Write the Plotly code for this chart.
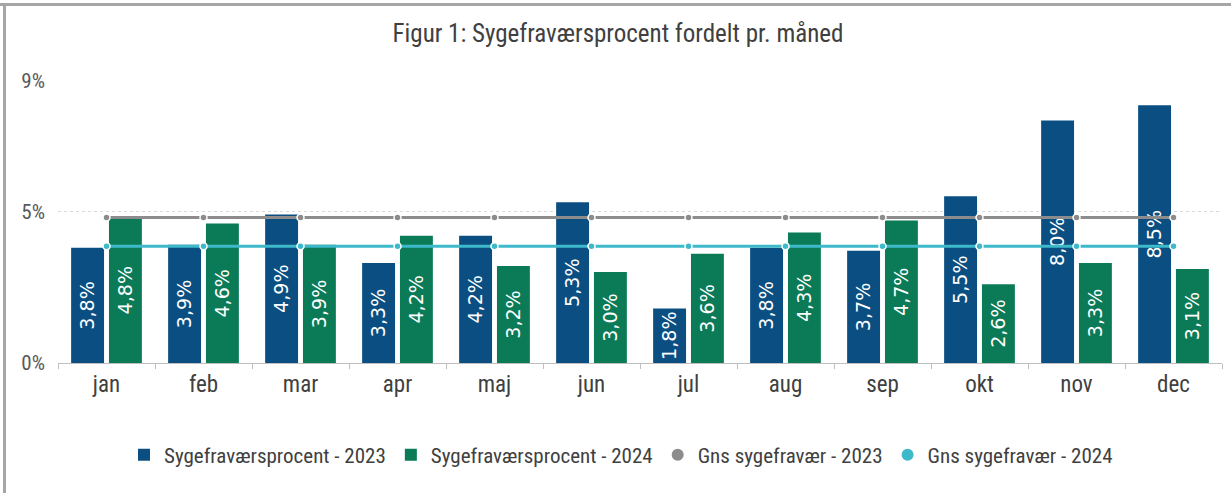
import plotly.graph_objects as go

months = ["jan", "feb", "mar", "apr", "maj", "jun", "jul", "aug", "sep", "okt", "nov", "dec"]
pct_2023 = [3.8, 3.9, 4.9, 3.3, 4.2, 5.3, 1.8, 3.8, 3.7, 5.5, 8.0, 8.5]
pct_2024 = [4.8, 4.6, 3.9, 4.2, 3.2, 3.0, 3.6, 4.3, 4.7, 2.6, 3.3, 3.1]
avg_2023 = [4.8] * 12
avg_2024 = [3.85] * 12
y_tickvals = [0, 5, 9.3]
y_ticktext = ["0%", "5%", "9%"]

W, H = 1231, 493
L, R, T, B = 58, 9, 81, 130
PW, PH = W - L - R, H - T - B

BLUE = "#0b4f82"
GREEN = "#0b7b57"
GRAY = "#8c8c8c"
CYAN = "#3db9c9"
TXT = "#404040"
NARROW = "Liberation Sans Narrow, Arial Narrow, Roboto Condensed, DejaVu Sans Condensed, Liberation Sans, sans-serif"
LBL = "DejaVu Sans, sans-serif"


def fmt(v):
    return f"{v:.1f}%".replace(".", ",")


fig = go.Figure()
fig.add_trace(go.Bar(
    x=months, y=pct_2023, name="Sygefraværsprocent - 2023",
    marker=dict(color=BLUE, line=dict(width=0)),
    text=[fmt(v) for v in pct_2023], textposition="inside", insidetextanchor="middle",
    textangle=-90, textfont=dict(color="white", size=21, family=LBL),
))
fig.add_trace(go.Bar(
    x=months, y=pct_2024, name="Sygefraværsprocent - 2024",
    marker=dict(color=GREEN, line=dict(width=0)),
    text=[fmt(v) for v in pct_2024], textposition="inside", insidetextanchor="middle",
    textangle=-90, textfont=dict(color="white", size=21, family=LBL),
))
fig.add_trace(go.Scatter(
    x=months, y=avg_2023, name="Gns sygefravær - 2023", mode="lines+markers",
    showlegend=False,
    line=dict(color=GRAY, width=3),
    marker=dict(symbol="circle", size=7, color=GRAY, line=dict(color="white", width=1.5)),
))
fig.add_trace(go.Scatter(
    x=months, y=avg_2024, name="Gns sygefravær - 2024", mode="lines+markers",
    showlegend=False,
    line=dict(color=CYAN, width=3),
    marker=dict(symbol="circle", size=7, color=CYAN, line=dict(color="white", width=1.5)),
))
# legend-only entries showing round swatches
fig.add_trace(go.Scatter(
    x=[None], y=[None], name="Gns sygefravær - 2023", mode="markers",
    marker=dict(symbol="circle", size=12, color=GRAY),
))
fig.add_trace(go.Scatter(
    x=[None], y=[None], name="Gns sygefravær - 2024", mode="markers",
    marker=dict(symbol="circle", size=12, color=CYAN),
))

fig.update_layout(
    width=W, height=H,
    margin=dict(l=L, r=R, t=T, b=B, autoexpand=False),
    paper_bgcolor="white", plot_bgcolor="white",
    barmode="group", bargap=0.22, bargroupgap=0.13,
    uniformtext=dict(minsize=8, mode="show"),
    title=dict(text="Figur 1: Sygefraværsprocent fordelt pr. måned",
               x=618 / W, xanchor="center", y=1 - 33 / H, yanchor="middle",
               font=dict(family=NARROW, size=25, color=TXT)),
    font=dict(family=NARROW, color=TXT),
    showlegend=True,
    legend=dict(orientation="h", x=(621 - L) / PW, xanchor="center",
                y=(363 - 455) / PH, yanchor="middle",
                font=dict(family=NARROW, size=21, color=TXT),
                itemwidth=30, traceorder="normal"),
    xaxis=dict(type="category", categoryorder="array", categoryarray=months,
               range=[-0.5, len(months) - 0.5],
               showgrid=False, showline=True, linecolor="#bfbfbf", linewidth=1,
               ticks="outside", tickson="boundaries", ticklen=5, tickcolor="#bfbfbf",
               automargin=False,
               tickfont=dict(family=NARROW, size=23, color=TXT), fixedrange=True),
    yaxis=dict(range=[0, 9.3], tickvals=y_tickvals, ticktext=y_ticktext,
               showgrid=True, gridcolor="#d9d9d9", griddash="dot", gridwidth=1,
               zeroline=False, showline=False, ticks="", automargin=False,
               ticklabelstandoff=12,
               tickfont=dict(family=NARROW, size=21, color="#595959")),
    shapes=[
        dict(type="line", xref="paper", yref="paper", x0=-L / PW, x1=(W - L) / PW,
             y0=1 + (T - 4.5) / PH, y1=1 + (T - 4.5) / PH, line=dict(color="#a6a6a6", width=3)),
        dict(type="line", xref="paper", yref="paper", x0=-(L - 4.5) / PW, x1=-(L - 4.5) / PW,
             y0=1 + (T - 3) / PH, y1=-B / PH, line=dict(color="#a6a6a6", width=3)),
    ],
)

fig.write_html("out.html", config={"displayModeBar": False},
               post_script="document.body.style.margin='0';")
